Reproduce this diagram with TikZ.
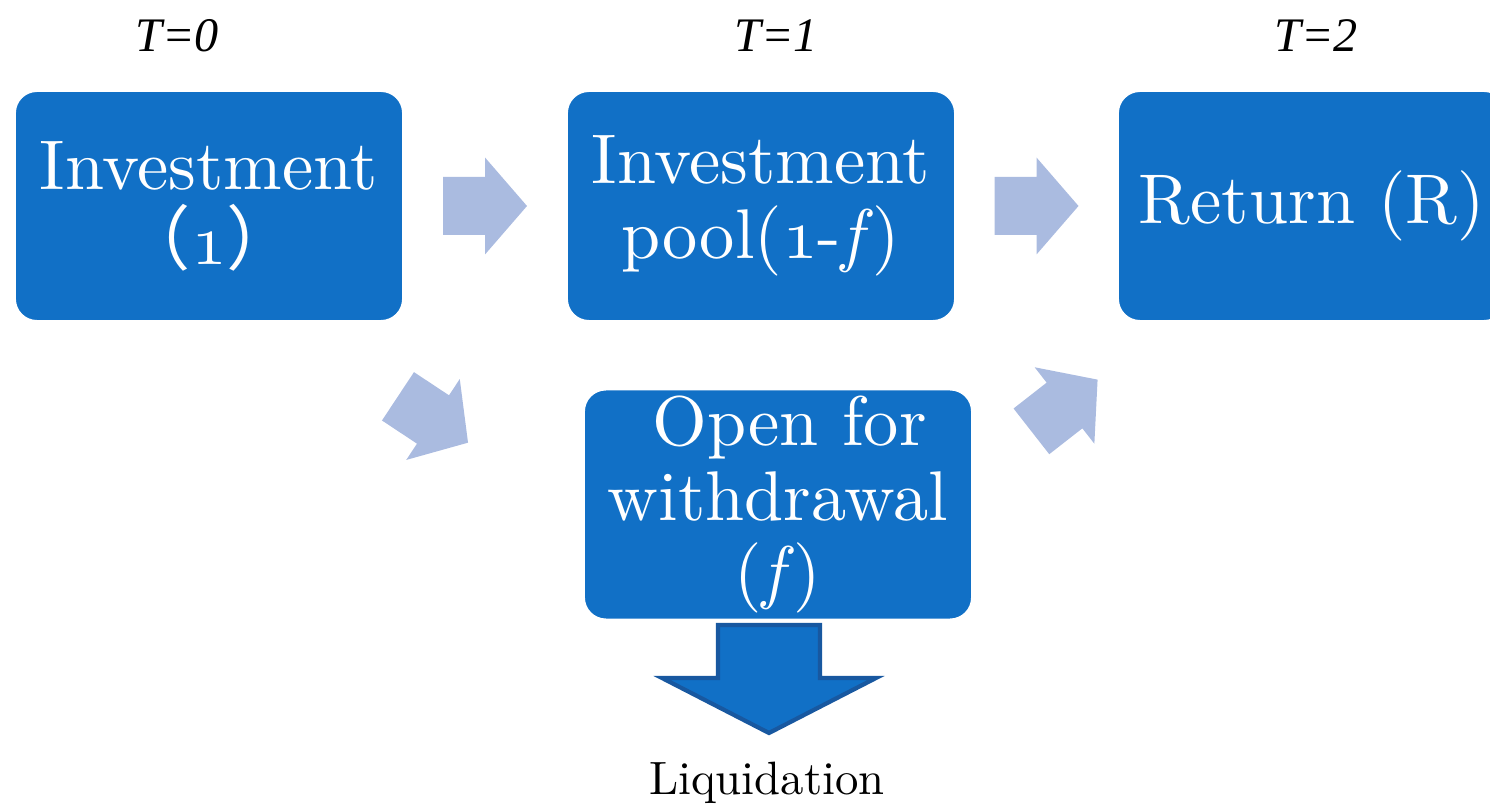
\documentclass[tikz,border=0pt]{standalone}
\usepackage{fontspec}
\usetikzlibrary{calc}
\newfontfamily\timesfont{Liberation Serif}
\newfontfamily\cjk{Noto Sans CJK SC}
\newfontfamily\boxfont{lmroman10-regular.otf}[ItalicFont=lmroman10-italic.otf]
\newcommand\oldone{{\usefont{OML}{lmm}{m}{it}1}}
\definecolor{boxblue}{RGB}{17,112,198}
\definecolor{paleblue}{RGB}{170,187,224}
\definecolor{edgeblue}{RGB}{24,88,160}
\tikzset{
  fatarrow/.pic={\fill[paleblue] (-42,-29) -- (0,-29) -- (0,-48.5) -- (42,0) -- (0,48.5) -- (0,29) -- (-42,29) -- cycle;}
}
\begin{document}
\begin{tikzpicture}[x=0.01cm, y=0.01cm,
  box/.style={draw=white, line width=0.6pt, fill=boxblue, rounded corners=0.22cm,
    minimum width=3.88cm, minimum height=2.30cm, inner ysep=0pt, text=white, align=center,
    font=\boxfont\fontsize{20}{21.3}\selectfont},
  stamp/.style={font=\timesfont\itshape\fontsize{13.7}{16}\selectfont, anchor=base}
]
\useasboundingbox (0,0) rectangle (1490,806);
\clip (0,0) rectangle (1490,806);
% time labels
\node[stamp] (t0) at (177,754) {T=0};
\node[stamp] (t1) at (776,754) {T=1};
\node[stamp] (t2) at (1316,754) {T=2};
% stages
\node[box] (inv) at (209,600) {Investment\\{\cjk （}\oldone{\cjk ）}};
\node[box] (pool) at (761,600) {Investment\\pool(\oldone-\textit{f})};
\node[box] (ret) at (1312,600) {Return (R)};
\node[box] (wd) at (778,301.5) {\ Open for\\withdrawal\\(\textit{f})};
% flows
\pic at ($(inv.east)!0.5!(pool.west)$) {fatarrow};
\pic at ($(pool.east)!0.5!(ret.west)$) {fatarrow};
\pic[rotate=-33.5] at (433,386.5) {fatarrow};
\pic[rotate=38] at (1064.5,400.5) {fatarrow};
\coordinate (drop) at (769,181);
\fill[boxblue, draw=edgeblue, line width=1.2pt] (drop) ++(-51,0) -- ++(102,0) -- ++(0,-53)
  -- ++(56,0) -- ++(-107,-55) -- ++(-107,55) -- ++(56,0) -- cycle;
\node[font=\boxfont\fontsize{13.3}{16}\selectfont, anchor=base] (liq) at (767,11) {Liquidation};
\end{tikzpicture}
\end{document}
